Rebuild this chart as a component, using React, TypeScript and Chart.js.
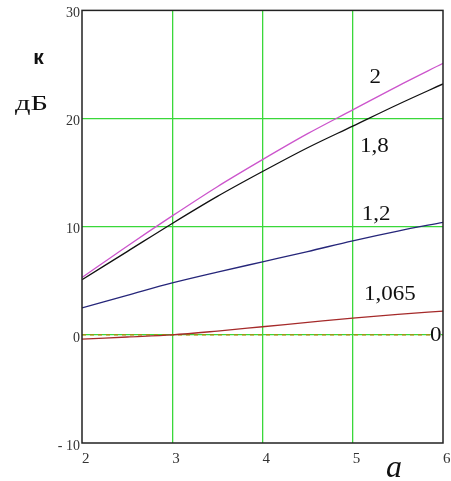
import React, { useEffect, useRef } from "react";
import { Chart, registerables } from "chart.js";

Chart.register(...registerables);

// a-axis sample points
const aValues = [2, 2.5, 3, 3.5, 4, 4.5, 5, 5.5, 6];
// k, dB for each curve parameter
const k2 = [5.3, 8.2, 11.0, 13.7, 16.2, 18.6, 20.8, 23.0, 25.1];
const k18 = [5.1, 7.7, 10.3, 12.8, 15.1, 17.3, 19.3, 21.3, 23.2];
const k12 = [2.5, 3.65, 4.8, 5.8, 6.75, 7.7, 8.7, 9.6, 10.4];
const k1065 = [-0.4, -0.2, 0.0, 0.35, 0.75, 1.15, 1.55, 1.9, 2.2];
const k0 = [0, 0, 0, 0, 0, 0, 0, 0, 0];

const curveNames = ["2", "1,8", "1,2", "1,065", "0"];
const curveColors = ["#cc55cc", "#111111", "#26267a", "#a52a2a", "#b8860b"];
const labelA = [5.25, 5.24, 5.26, 5.41, 5.92];
const labelK = [23.8, 17.4, 11.1, 3.67, -0.1];

const xTicks = [2, 3, 4, 5, 6];
const yTicks = [-10, 0, 10, 20, 30];

const GRID = "#3ad83a";

const annotPlugin = {
  id: "annot",
  afterDatasetsDraw(chart: any) {
    const { ctx, chartArea: ca, scales } = chart;
    const xs = scales.x;
    const ys = scales.y;
    ctx.save();
    // frame
    ctx.strokeStyle = "#222";
    ctx.lineWidth = 1.5;
    ctx.strokeRect(ca.left, ca.top, ca.right - ca.left, ca.bottom - ca.top);

    // curve labels
    ctx.font = '20px "Liberation Serif"';
    ctx.fillStyle = "#111";
    ctx.textAlign = "center";
    ctx.textBaseline = "middle";
    curveNames.forEach((name, i) => {
      const px = xs.getPixelForValue(labelA[i]);
      const py = ys.getPixelForValue(labelK[i]);
      if (name === "0") {
        ctx.fillStyle = "#fff";
        ctx.fillRect(px - 5, py - 7, 10, 14);
        ctx.fillStyle = "#111";
      }
      ctx.save();
      ctx.translate(px, py);
      ctx.scale(1.15, 1);
      ctx.fillText(name, 0, 0);
      ctx.restore();
    });

    // axis names
    ctx.textBaseline = "alphabetic";
    ctx.textAlign = "center";
    ctx.font = 'bold 21px "Liberation Sans"';
    ctx.fillText("к", 38.5, 64);

    ctx.font = '20px "Liberation Serif"';
    ctx.textAlign = "left";
    const w = ctx.measureText("дБ").width;
    ctx.save();
    ctx.translate(15, 110);
    ctx.scale(33 / w, 1);
    ctx.fillText("дБ", 0, 0);
    ctx.restore();

    ctx.font = 'italic 32px "Liberation Serif"';
    ctx.fillText("a", 386, 477);
    ctx.restore();
  },
};

export default function App() {
  const ref = useRef<HTMLCanvasElement | null>(null);
  useEffect(() => {
    document.body.style.margin = "0";
    const canvas = ref.current!;
    const mk = (vals: number[]) => aValues.map((a, i) => ({ x: a, y: vals[i] }));
    const series = [k2, k18, k12, k1065, k0];
    const chart = new Chart(canvas, {
      type: "line",
      data: {
        datasets: series.map((vals, i) => ({
          label: curveNames[i],
          data: mk(vals),
          borderColor: curveColors[i],
          borderWidth: 1.3,
          borderDash: curveNames[i] === "0" ? [4, 4] : [],
          pointRadius: 0,
          cubicInterpolationMode: "monotone",
          fill: false,
        })),
      },
      options: {
        animation: false,
        responsive: false,
        layout: { padding: { left: 8, top: 10, right: 8, bottom: 0 } },
        plugins: { legend: { display: false }, tooltip: { enabled: false } },
        scales: {
          x: {
            type: "linear",
            min: 2,
            max: 6,
            afterBuildTicks: (s: any) => {
              s.ticks = xTicks.map((v) => ({ value: v }));
            },
            afterFit: (s: any) => {
              s.height = 38;
              s.paddingRight = 0;
              s.paddingLeft = 0;
            },
            border: { display: false },
            grid: {
              drawTicks: false,
              lineWidth: 1.3,
              color: (c: any) =>
                c.tick && (c.tick.value === 2 || c.tick.value === 6) ? "rgba(0,0,0,0)" : GRID,
            },
            ticks: {
              align: "start",
              padding: 7,
              color: "#333",
              font: { family: "Liberation Serif", size: 15 },
              callback: (v: any) => String(v),
            },
          },
          y: {
            type: "linear",
            min: -10,
            max: 30,
            afterBuildTicks: (s: any) => {
              s.ticks = yTicks.map((v) => ({ value: v }));
            },
            afterFit: (s: any) => {
              s.width = 74;
            },
            border: { display: false },
            grid: {
              drawTicks: false,
              lineWidth: 1.3,
              color: (c: any) =>
                c.tick && (c.tick.value === -10 || c.tick.value === 30) ? "rgba(0,0,0,0)" : GRID,
            },
            ticks: {
              padding: 2,
              labelOffset: 3,
              color: "#333",
              font: { family: "Liberation Serif", size: 14 },
              callback: (v: any) => (v < 0 ? "- " + Math.abs(v) : String(v)),
            },
          },
        },
      },
      plugins: [annotPlugin],
    } as any);
    return () => chart.destroy();
  }, []);
  return <canvas ref={ref} width={451} height={481} style={{ display: "block" }} />;
}
